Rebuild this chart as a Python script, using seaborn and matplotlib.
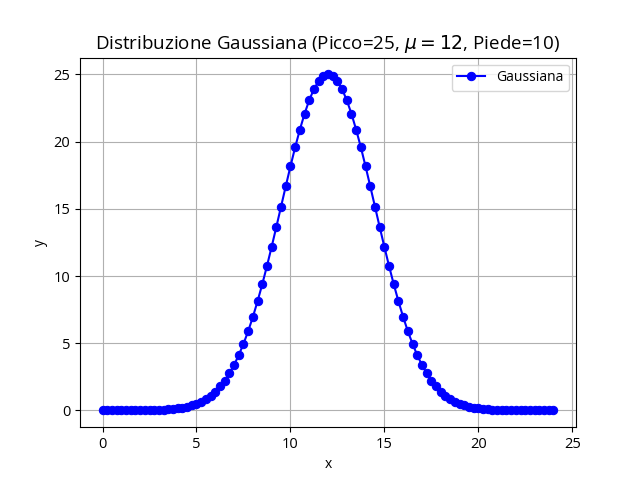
import matplotlib
matplotlib.use('Agg')
import pandas as pd
import matplotlib.pyplot as plt
import seaborn as sns

plt.rcParams['font.family'] = ['Open Sans', 'DejaVu Sans']

# valori (passo 0.25 su x)
x_vals = [0.0, 0.25, 0.5, 0.75, 1.0, 1.25, 1.5, 1.75, 2.0, 2.25, 2.5, 2.75, 3.0, 3.25,
          3.5, 3.75, 4.0, 4.25, 4.5, 4.75, 5.0, 5.25, 5.5, 5.75, 6.0, 6.25, 6.5, 6.75,
          7.0, 7.25, 7.5, 7.75, 8.0, 8.25, 8.5, 8.75, 9.0, 9.25, 9.5, 9.75, 10.0, 10.25,
          10.5, 10.75, 11.0, 11.25, 11.5, 11.75, 12.0, 12.25, 12.5, 12.75, 13.0, 13.25,
          13.5, 13.75, 14.0, 14.25, 14.5, 14.75, 15.0, 15.25, 15.5, 15.75, 16.0, 16.25,
          16.5, 16.75, 17.0, 17.25, 17.5, 17.75, 18.0, 18.25, 18.5, 18.75, 19.0, 19.25,
          19.5, 19.75, 20.0, 20.25, 20.5, 20.75, 21.0, 21.25, 21.5, 21.75, 22.0, 22.25,
          22.5, 22.75, 23.0, 23.25, 23.5, 23.75, 24.0]
y_vals = [0, 0, 0, 0, 0, 0, 0, 0.01, 0.01, 0.01, 0.02, 0.03, 0.04, 0.05, 0.08, 0.11,
          0.15, 0.20, 0.28, 0.37, 0.50, 0.65, 0.85, 1.10, 1.40, 1.78, 2.22, 2.76, 3.38,
          4.11, 4.95, 5.89, 6.95, 8.12, 9.38, 10.74, 12.17, 13.65, 15.16, 16.67, 18.15,
          19.57, 20.88, 22.06, 23.08, 23.90, 24.50, 24.88, 25.00,
          24.88, 24.50, 23.90, 23.08, 22.06, 20.88, 19.57, 18.15, 16.67, 15.16, 13.65,
          12.17, 10.74, 9.38, 8.12, 6.95, 5.89, 4.95, 4.11, 3.38, 2.76, 2.22, 1.78, 1.40,
          1.10, 0.85, 0.65, 0.50, 0.37, 0.28, 0.20, 0.15, 0.11, 0.08, 0.05, 0.04, 0.03,
          0.02, 0.01, 0.01, 0.01, 0, 0, 0, 0, 0, 0, 0]

df = pd.DataFrame({'x': x_vals, 'y': y_vals})

fig, ax = plt.subplots(figsize=(6.4, 4.8), dpi=100)
sns.lineplot(data=df, x='x', y='y', marker='o', color='blue', markeredgecolor='blue',
             markersize=6, label='Gaussiana', ax=ax)
ax.set_title(r'Distribuzione Gaussiana (Picco=25, $\mu = 12$, Piede=10)', fontsize=13.5)
ax.set_xlabel('x')
ax.set_ylabel('y')
ax.tick_params(labelsize=10.5)
ax.grid(True)
ax.legend(loc='upper right')

plt.savefig('out.png')
